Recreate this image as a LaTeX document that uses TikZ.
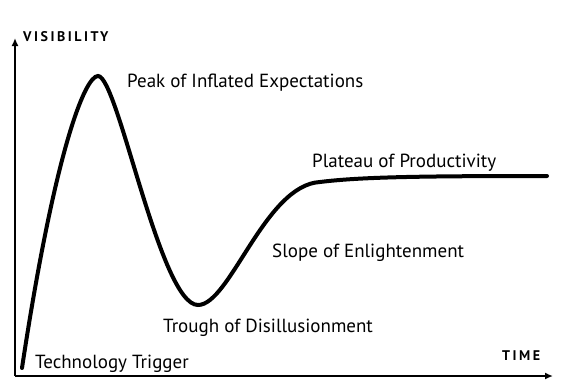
\documentclass[tikz,border=0pt]{standalone}
\usepackage{fontspec}
\setmainfont{PT Sans}
\usepackage{tikz}
\usetikzlibrary{arrows.meta,positioning}

\tikzset{
  phase/.style={anchor=base west, inner sep=0pt, font=\fontsize{19}{22}\selectfont},
  axislabel/.style={anchor=base west, inner sep=0pt, font=\bfseries\fontsize{14}{16}\selectfont\addfontfeature{LetterSpace=18}},
  axis/.style={line width=2pt, -{Latex[length=8pt,width=7pt]}},
  hype/.style={line width=4pt, line cap=round}
}

\begin{document}
\begin{tikzpicture}[x=1pt,y=-1pt]
  \useasboundingbox (0,0) rectangle (579,389);
  \coordinate (o) at (15,376);
  \coordinate (ytip) at (15,38);
  \coordinate (xtip) at (553,376);
  \coordinate (trigger) at (22,368);
  \coordinate (peak) at (98,76);
  \coordinate (trough) at (198,305);
  \coordinate (slope) at (320,182);
  \coordinate (plateau) at (547,176);
  \path[axis]
  (o) edge (ytip)
  (o) edge (xtip)
  ;
  \draw[hype] (trigger) .. controls (55,150) and (85,76) .. (peak)
    .. controls (118,76) and (160,305) .. (trough)
    .. controls (230,305) and (265,185) .. (slope)
    .. controls (360,177) and (420,176) .. (plateau);
  \node[axislabel] (vis) at (23,41) {VISIBILITY};
  \node[axislabel] (time) at (502,360) {TIME};
  \node[phase] (lpeak) at (127,87) {Peak of Inflated Expectations};
  \node[phase] (lplateau) at (312,167) {Plateau of Productivity};
  \node[phase] (lslope) at (272,257) {Slope of Enlightenment};
  \node[phase] (ltrough) at (163,332) {Trough of Disillusionment};
  \node[phase] (ltrigger) at (35,368) {Technology Trigger};
\end{tikzpicture}
\end{document}
